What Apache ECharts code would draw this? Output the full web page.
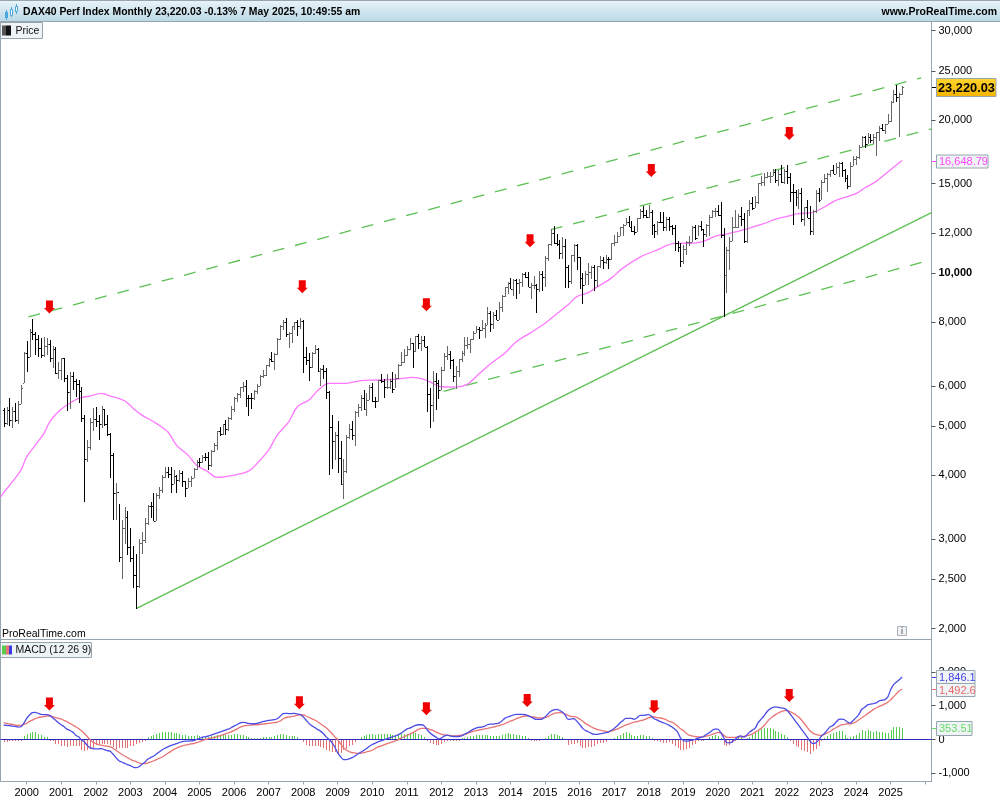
<!DOCTYPE html>
<html>
<head>
<meta charset="utf-8">
<title>DAX40 Perf Index Monthly</title>
<style>
html, body { margin: 0; padding: 0; background: #fff; }
#chart { width: 1000px; height: 800px; }
</style>
<script src="https://cdn.jsdelivr.net/npm/echarts@6/dist/echarts.min.js"></script>
</head>
<body>
<div id="chart"></div>
<script>
// monthly bars, May 1999 to May 2025, one row per year
const opens = [
	5390,5069,5378,5137,5345,5149,5525,6080,
	6960,6835,7644,7599,7414,7110,6898,7189,7259,6798,7077,6372,
	6434,6795,6208,5830,6264,6123,6058,5861,5188,4308,4559,5100,
	5160,5108,5039,5397,5041,4818,4383,3700,3713,2769,3153,3320,
	2893,2748,2547,2424,2942,2983,3221,3487,3485,3257,3656,3746,
	3965,4059,4018,3856,3985,3921,4052,3896,3785,3893,3960,4126,
	4256,4255,4350,4349,4185,4460,4586,4887,4829,5044,4929,5193,
	5408,5674,5796,5970,6009,5692,5683,5682,5859,6004,6268,6309,
	6597,6789,6715,6917,7409,7883,8007,7584,7638,7862,8019,7870,
	8067,6851,6748,6535,6949,7096,6418,6479,6422,5831,4988,4669,
	4810,4338,3843,4085,4769,4941,4809,5332,5465,5675,5415,5625,
	5957,5608,5598,6154,6136,5964,5966,6148,5925,6229,6601,6688,
	6914,7077,7272,7041,7514,7294,7376,7159,5785,5502,6141,6089,
	5898,6458,6856,6947,6761,6264,6416,6772,6970,7216,7260,7406,
	7612,7776,7742,7795,7914,8348,7959,8276,8103,8594,9033,9406,
	9552,9306,9692,9556,9603,9943,9833,9407,9470,9474,9326,9980,
	9806,10694,11401,11966,11454,11413,10945,11309,10259,9660,10850,11382,
	10743,9798,9495,9965,10039,10262,9680,10337,10592,10511,10665,10640,
	11481,11535,11834,12312,12438,12615,12325,12118,12055,12829,13229,13023,
	12918,13189,12435,12097,12612,12604,12306,12805,12364,12247,11447,11257,
	10559,11173,11516,11526,12344,11727,12399,12189,11939,12428,12867,13236,
	13249,12981,11890,9936,11107,11587,12311,12313,12945,12761,11556,13291,
	13719,13433,13786,15008,15136,15421,15531,15544,15835,15261,15689,15100,
	15885,15471,14461,14415,14098,14388,12784,13484,12835,12114,13254,14397,
	13924,15128,15365,15629,15922,15664,16148,16447,15947,15387,14810,16215,
	16752,16903,17678,18492,17932,18498,18235,18509,18907,19325,19078,19626,
	19909,21732,22551,22163,22497
];
const highs = [
	5440,5450,5690,5460,5560,5600,6020,7000,
	7340,7780,8136,7660,7550,7450,7500,7450,7400,7180,7160,6700,
	6800,6800,6300,6390,6390,6200,6150,5960,5250,4700,5180,5430,
	5460,5250,5467,5400,5250,4850,4430,3870,3520,3270,3468,3400,
	3157,2900,2800,3000,3100,3300,3500,3550,3700,3700,3800,4000,
	4160,4150,4150,4100,4000,4100,4090,3900,3960,3990,4140,4290,
	4330,4390,4430,4440,4480,4630,4900,4970,5060,5140,5220,5470,
	5700,5810,5980,6100,6160,5760,5800,5880,6040,6290,6440,6610,
	6820,6980,6960,7450,7890,8090,8150,7660,7870,8020,8090,8150,
	8100,7150,6950,6990,7230,7110,6500,6600,6500,5870,5250,4880,
	5110,4680,4300,4800,5050,5110,5360,5520,5760,5890,5810,6030,
	6090,5700,6170,6340,6190,6320,6200,6390,6320,6640,6980,7080,
	7180,7440,7300,7530,7600,7520,7520,7190,5930,6430,6350,6170,
	6530,6970,7190,7030,6790,6560,6780,7020,7480,7480,7430,7680,
	7870,7820,8070,7960,8560,8430,8400,8460,8770,9050,9410,9620,
	9790,9730,9730,9750,10000,10050,10030,9560,9890,9520,10100,10090,
	10800,11400,12220,12390,11920,11640,11800,11670,10370,10850,11430,11390,
	10750,9990,10100,10490,10330,10370,10340,10800,10740,10830,10770,11480,
	11890,12030,12310,12490,12840,12950,12680,12370,12830,13340,13530,13280,
	13600,13290,12470,12650,13200,13170,12880,12880,12460,12460,11570,11480,
	11370,11570,11820,12370,12440,12440,12660,12200,12490,12990,13310,13430,
	13640,13800,12250,11230,11780,12910,13310,13050,13460,13150,13310,13920,
	14130,14170,15030,15500,15730,15800,15810,16030,15990,15970,16290,16000,
	16300,15740,14960,14600,14610,14710,13500,13950,13560,13280,14560,14680,
	15270,15660,15710,15920,16330,16430,16530,16530,16050,15580,16530,17000,
	17000,17880,18570,18640,18890,18780,18780,18950,19500,19680,19680,20520,
	21800,22940,23480,22640,23380
];
const lows = [
	4990,5020,5010,4950,5090,5060,5530,6070,
	6380,6830,7370,6900,6830,6800,6850,6900,6700,6500,6320,6200,
	6160,6100,5350,5400,5900,5700,5550,5100,3539,4250,4480,4900,
	4980,4700,4960,5000,4790,3947,3270,3270,2703,2500,2930,2790,
	2700,2400,2188,2400,2800,2950,3200,3300,3250,3250,3600,3700,
	3950,3960,3690,3850,3690,3890,3800,3620,3770,3800,3950,4100,
	4160,4240,4270,4100,4160,4450,4490,4790,4800,4800,4900,5150,
	5330,5590,5690,5840,5460,5240,5400,5620,5780,5990,6220,6270,
	6530,6690,6440,6900,7380,7720,7500,7130,7300,7720,7520,7760,
	6350,6590,6130,6510,6930,6400,6000,6180,5660,4014,4120,4290,
	4050,3830,3589,4050,4720,4690,4570,5220,5350,5380,5240,5620,
	5590,5430,5570,6090,5670,5910,5920,5820,5930,6190,6560,6660,
	6860,7050,6510,6980,7100,7030,7150,5340,4965,5100,5370,5650,
	5900,6430,6740,6490,6110,5915,6260,6700,6860,7080,6950,7370,
	7620,7420,7700,7460,7900,7650,7780,8100,8100,8400,8970,9110,
	9290,9020,8900,9100,9400,9760,9400,8900,9300,8350,9200,9220,
	9380,10580,11300,11400,11300,10680,10650,9340,9330,9500,10530,10120,
	9310,8700,9490,9480,9740,9230,9370,10230,10190,10400,10170,10610,
	11300,11480,11830,11850,12420,12320,12040,11870,12040,12800,12840,12830,
	12860,11870,11730,11880,12540,12100,12100,12100,11860,11050,11010,10280,
	10400,10870,11300,11510,11620,11820,12120,11270,11800,11810,12860,12880,
	12950,11720,8200,9150,10160,11570,12250,12250,12370,11450,11450,12960,
	13310,13430,13670,14850,14820,15370,15050,15510,15020,14820,15050,14980,
	14970,13810,12440,13570,13380,12620,12390,12830,11860,11860,13100,13790,
	13900,15050,14460,15480,15630,15630,15460,15470,15140,14630,14780,16230,
	16350,16730,17670,17640,17930,18000,17950,17020,18210,18990,18810,19620,
	19860,21560,21700,18490,22400
];
const closes = [
	5069,5378,5137,5345,5149,5525,5950,6958,
	6835,7644,7599,7414,7110,6898,7189,7259,6798,7077,6372,6434,
	6795,6208,5830,6264,6123,6058,5861,5188,4308,4559,5100,5160,
	5108,5039,5397,5041,4818,4383,3700,3713,2769,3153,3320,2893,
	2748,2547,2424,2942,2983,3221,3487,3485,3257,3656,3746,3965,
	4059,4018,3856,3985,3921,4052,3896,3785,3893,3960,4126,4256,
	4255,4350,4349,4185,4460,4586,4887,4829,5044,4929,5193,5408,
	5674,5796,5970,6009,5692,5683,5682,5859,6004,6268,6309,6597,
	6789,6715,6917,7409,7883,8007,7584,7638,7862,8019,7870,8067,
	6851,6748,6535,6949,7096,6418,6479,6422,5831,4988,4669,4810,
	4338,3843,4085,4769,4941,4809,5332,5465,5675,5415,5625,5957,
	5608,5598,6154,6136,5964,5966,6148,5925,6229,6601,6688,6914,
	7077,7272,7041,7514,7294,7376,7159,5785,5502,6141,6089,5898,
	6458,6856,6947,6761,6264,6416,6772,6970,7216,7260,7406,7612,
	7776,7742,7795,7914,8348,7959,8276,8103,8594,9033,9406,9552,
	9306,9692,9556,9603,9943,9833,9407,9470,9474,9326,9980,9806,
	10694,11401,11966,11454,11413,10945,11309,10259,9660,10850,11382,10743,
	9798,9495,9965,10039,10262,9680,10337,10592,10511,10665,10640,11481,
	11535,11834,12312,12438,12615,12325,12118,12055,12829,13229,13023,12918,
	13189,12435,12097,12612,12604,12306,12805,12364,12247,11447,11257,10559,
	11173,11516,11526,12344,11727,12399,12189,11939,12428,12867,13236,13249,
	12981,11890,9936,11107,11587,12311,12313,12945,12761,11556,13291,13719,
	13433,13786,15008,15136,15421,15531,15544,15835,15261,15689,15100,15885,
	15471,14461,14415,14098,14388,12784,13484,12835,12114,13254,14397,13924,
	15128,15365,15629,15922,15664,16148,16447,15947,15387,14810,16215,16752,
	16903,17678,18492,17932,18498,18235,18509,18907,19325,19078,19626,19909,
	21732,22551,22163,22497,23220
];

// pink moving average, read at these month offsets (0 = Jan 2000)
const maMonths = [-9,-8,-5,-2,0,3,6,8,11,14,18,22,26,29,34,37,40,45,49,52,56,59,63,66,72,77,80,84,87,91,94,98,101,105,110,117,123,129,134,138,141,144,149,153,156,161,166,170,175,180,184,188,191,195,198,203,207,213,219,225,232,235,239,242,247,251,256,260,264,268,273,277,281,288,291,295,300,304];
const maValues = [3629,3700,3884,4096,4351,4588,4838,5100,5336,5501,5671,5730,5801,5730,5609,5419,5257,5063,4874,4588,4385,4190,4065,3963,4004,4078,4222,4485,4801,5100,5459,5627,5870,6070,6070,6154,6162,6190,6238,6181,6070,5977,5969,6043,6255,6626,6955,7331,7637,7970,8313,8660,8991,9156,9384,9775,10228,10752,11114,11436,11457,11541,11807,11914,12076,12263,12506,12775,12926,13086,13163,13490,13900,14329,14703,15151,15977,16648.79];

// MACD line, one row per year
const macdLine = [
	427,417,407,397,387,367,377,476,
	625,724,794,804,774,744,734,734,714,645,575,496,
	436,377,308,268,218,129,79,-10,-69,-169,-248,-268,
	-278,-278,-268,-298,-327,-347,-436,-536,-625,-665,-704,-744,
	-774,-813,-833,-804,-734,-675,-585,-536,-496,-436,-367,-308,
	-258,-218,-179,-149,-119,-89,-60,-50,-50,-40,-30,0,
	30,69,79,99,129,159,188,218,248,278,308,347,
	397,436,486,506,496,476,466,466,476,496,526,546,
	565,575,585,615,684,764,774,764,764,774,754,734,
	675,575,476,407,357,298,248,179,79,0,-90,-220,
	-397,-506,-595,-595,-575,-536,-486,-427,-377,-327,-268,-198,
	-149,-109,-69,-40,-10,20,50,79,109,139,188,248,
	308,337,377,417,436,436,407,298,198,129,79,20,
	40,99,129,109,89,89,89,109,149,198,248,298,
	337,357,367,387,436,456,456,466,486,546,625,665,
	694,724,744,744,744,734,704,665,625,595,595,605,
	665,754,833,873,893,863,813,724,595,605,615,546,
	446,337,268,228,188,149,149,169,179,198,218,268,
	327,397,486,556,625,625,625,595,645,714,714,724,
	734,684,605,575,526,496,466,427,377,308,228,50,
	-30,-50,-40,-20,0,40,60,89,149,198,268,308,
	308,208,60,-89,-99,-69,0,79,109,69,129,218,
	278,337,496,595,694,813,893,942,962,952,932,923,
	873,764,655,536,427,308,198,79,-50,-119,-99,-20,
	99,179,278,377,417,506,595,605,585,516,486,565,
	645,744,893,952,1022,1042,1061,1081,1141,1160,1180,1250,
	1468,1617,1696,1766,1846.1
];
const signalLine = [
	496,476,456,446,427,417,417,446,
	476,536,575,615,645,665,675,694,694,675,645,625,
	605,565,526,476,427,377,327,258,179,89,0,-79,
	-119,-149,-169,-188,-198,-218,-258,-317,-377,-436,-486,-536,
	-585,-625,-655,-694,-714,-714,-694,-665,-635,-595,-556,-516,
	-466,-407,-357,-298,-258,-218,-188,-169,-149,-129,-119,-89,
	-60,-30,0,20,40,60,79,109,139,169,198,228,
	268,308,357,387,407,417,427,436,436,446,456,466,
	476,486,496,516,546,605,645,665,675,694,714,734,
	724,694,655,615,575,526,466,407,347,268,179,79,
	0,-129,-238,-317,-357,-387,-397,-407,-407,-387,-367,-347,
	-317,-268,-218,-198,-159,-129,-99,-69,-40,-10,40,79,
	119,159,198,248,298,327,327,327,298,268,228,188,
	159,139,129,119,109,109,119,129,149,179,208,238,
	258,278,298,317,327,347,367,387,407,436,466,506,
	546,575,615,645,675,694,694,684,665,645,635,635,
	645,675,724,764,784,794,784,754,714,684,675,655,
	605,546,476,427,377,337,298,278,258,238,228,248,
	278,308,347,387,427,456,486,516,526,556,575,605,
	645,665,665,645,635,615,585,536,516,466,397,317,
	268,188,129,109,89,79,79,79,99,119,149,179,
	208,198,129,69,60,60,60,79,79,89,109,139,
	159,218,268,327,407,506,605,675,734,784,823,853,
	853,833,784,734,675,585,476,367,258,188,149,129,
	119,149,198,238,298,347,397,436,446,466,466,486,
	526,585,645,704,764,823,883,932,972,1012,1052,1101,
	1171,1260,1349,1438,1492.6
];
const macdHist = [
	-60,-60,-50,-50,-40,-40,-30,100,
	150,190,210,210,170,120,80,70,-30,-50,-120,-140,
	-180,-200,-230,-200,-200,-200,-200,-300,-330,-300,-280,-250,
	-160,-140,-130,-120,-140,-170,-220,-270,-260,-260,-260,-240,
	-200,-180,-120,-100,-60,-30,60,100,130,160,190,220,
	220,220,210,200,180,160,140,120,110,100,90,130,
	100,80,80,80,90,100,120,120,120,130,140,140,
	150,150,140,140,110,70,40,30,30,50,70,80,
	70,80,100,120,160,150,120,110,100,100,60,20,
	-80,-150,-190,-200,-190,-200,-220,-240,-300,-340,-380,-380,
	-420,-400,-320,-280,-200,-160,-60,-20,80,100,130,150,
	150,130,150,170,160,150,150,120,110,130,150,160,
	170,170,190,190,160,130,80,-30,-110,-130,-150,-160,
	-140,-80,-30,-30,-30,-30,-30,30,40,80,100,110,
	120,130,130,130,130,110,100,100,110,130,170,180,
	160,150,130,120,110,100,30,-30,-30,-50,-30,-20,
	40,110,150,150,130,100,60,-20,-150,-130,-120,-100,
	-200,-250,-250,-220,-210,-180,-140,-110,-90,-60,-20,20,
	50,100,140,180,210,180,130,100,110,120,120,100,
	90,30,-30,-50,-60,-90,-90,-80,-120,-180,-250,-300,
	-310,-280,-250,-150,-120,-40,-30,-30,20,80,110,140,
	100,30,-170,-200,-170,-100,-30,60,80,-20,50,80,
	140,200,270,310,340,340,340,300,250,210,150,130,
	80,-30,-140,-190,-220,-300,-350,-380,-430,-350,-280,-180,
	-50,30,100,160,200,230,250,240,130,30,60,110,
	120,180,280,260,280,260,230,240,230,220,200,200,
	280,370,370,370,353.51
];

// trend lines: [month offset, price]
const supportLine = [[38, 2188], [314.2, 13150]];
const upperChannel = [[0.6, 8200], [310.6, 24220]];
const middleChannel = [[182, 12170], [314.2, 19220]];
const lowerChannel = [[144.8, 5853], [314.2, 10622]];

// red arrows: [month offset, value]
const priceArrows = [[7.9, 8581], [95.7, 9396], [138.8, 8660], [174.8, 11578], [216.9, 15906], [264.8, 18814]];
const macdArrows = [[7.9, 1050], [94.7, 1086], [138.8, 911], [173.8, 1149], [217.9, 967], [264.8, 1298]];

// axis ticks
const yearTicks = [0,12,24,36,48,60,72,84,96,108,120,132,144,156,168,180,192,204,216,228,240,252,264,276,288,300];
const priceTicks = [2000,2500,3000,4000,5000,6000,8000,10000,12000,15000,20000,25000,30000];
const macdTicks = [-1000,0,1000,2000];

const firstMonth = -8;
const lastPrice = 23220.03;
const lastMa = 16648.79;
const lastMacd = 1846.1;
const lastSignal = 1492.6;
const lastHist = 353.51;

const FONT = '"Liberation Sans", Arial, sans-serif';
const BORDER = '#97a6ae';
const ARROW = 'path://M2,0 L9,0 L9,7.5 L11,7.5 L5.5,13 L0,7.5 L2,7.5 Z';
const xMin = -9.09, xMax = 314.2;

const monthAt = i => firstMonth + i;
const ohlcData = closes.map((c, i) => [monthAt(i), opens[i], highs[i], lows[i], c]);
const histData = macdHist.map((v, i) => [monthAt(i), v]);

function renderBar(params, api) {
	const m = api.value(0);
	const o = api.coord([m, api.value(1)]);
	const h = api.coord([m, api.value(2)]);
	const l = api.coord([m, api.value(3)]);
	const c = api.coord([m, api.value(4)]);
	const X = Math.round(o[0]);
	const oy = Math.round(o[1]) + 0.5;
	const cy = Math.round(c[1]) + 0.5;
	const stroke = { stroke: api.value(4) >= api.value(1) ? '#666666' : '#000000', lineWidth: 1 };
	return {
		type: 'group',
		children: [
			{ type: 'line', shape: { x1: X + 0.5, y1: Math.round(h[1]), x2: X + 0.5, y2: Math.round(l[1]) }, style: stroke },
			{ type: 'line', shape: { x1: X - 1, y1: oy, x2: X, y2: oy }, style: stroke },
			{ type: 'line', shape: { x1: X + 1, y1: cy, x2: X + 2, y2: cy }, style: stroke }
		]
	};
}

function renderHist(params, api) {
	const top = api.coord([api.value(0), api.value(1)]);
	const base = api.coord([api.value(0), 0]);
	const x = Math.round(top[0]) + 0.5;
	return {
		type: 'line',
		shape: { x1: x, y1: Math.round(base[1]), x2: x, y2: Math.round(top[1]) },
		style: { stroke: api.value(1) >= 0 ? '#55cc4f' : '#e27272', lineWidth: 1 }
	};
}

const fmt = v => Math.round(v).toLocaleString('en-US');

const chart = echarts.init(document.getElementById('chart'), null, { renderer: 'canvas' });

function trend(data, dashed) {
	return {
		type: 'line', xAxisIndex: 0, yAxisIndex: 0, data: data, symbol: 'none', silent: true, z: 3,
		lineStyle: { color: '#5cc052', width: 1.3, type: dashed ? [12, 11] : 'solid' }
	};
}
function arrows(data, axis) {
	return {
		type: 'scatter', xAxisIndex: axis, yAxisIndex: axis, data: data, symbol: ARROW, symbolSize: [11, 13],
		itemStyle: { color: '#f00000', opacity: 1 }, silent: true, z: 6
	};
}
function macdCurve(data, color, z) {
	return {
		type: 'line', xAxisIndex: 1, yAxisIndex: 1, symbol: 'none', silent: true, z: z, smooth: 0.25,
		data: data.map((v, i) => [monthAt(i), v]),
		lineStyle: { color: color, width: 1.3 }
	};
}

chart.setOption({
	animation: false,
	backgroundColor: '#ffffff',
	textStyle: { fontFamily: FONT },
	grid: [
		{ left: 0.5, top: 21.5, width: 931, height: 618, show: true, borderColor: BORDER, borderWidth: 1, backgroundColor: '#fff' },
		{ left: 0.5, top: 639.5, width: 931, height: 142, show: true, borderColor: BORDER, borderWidth: 1, backgroundColor: '#fff' }
	],
	xAxis: [
		{
			type: 'value', gridIndex: 0, min: xMin, max: xMax, splitLine: { show: false },
			axisLine: { show: false }, axisTick: { show: false }, axisLabel: { show: false }
		},
		{
			type: 'value', gridIndex: 1, min: xMin, max: xMax, splitLine: { show: false },
			axisLine: { show: true, onZero: false, lineStyle: { color: BORDER } },
			axisTick: { show: true, length: 3, lineStyle: { color: BORDER }, customValues: yearTicks.concat(312) },
			axisLabel: {
				show: true, color: '#000', fontSize: 11, fontFamily: FONT, margin: 6, hideOverlap: false,
				customValues: yearTicks, formatter: v => String(2000 + Math.round(v / 12))
			}
		}
	],
	yAxis: [
		{
			type: 'log', gridIndex: 0, position: 'right', min: 1902.6, max: 31250, splitLine: { show: false },
			axisLine: { show: true, onZero: false, lineStyle: { color: BORDER } },
			axisTick: { show: true, length: 4, lineStyle: { color: '#555' }, customValues: priceTicks },
			axisLabel: {
				show: true, color: '#000', fontSize: 11, fontFamily: FONT, margin: 7, hideOverlap: false,
				customValues: priceTicks,
				formatter: v => Math.round(v) === 10000 ? '{b|10,000}' : fmt(v),
				rich: { b: { fontWeight: 'bold', fontSize: 11, fontFamily: FONT, color: '#000' } }
			}
		},
		{
			type: 'value', gridIndex: 1, position: 'right', min: -1241, max: 2955, splitLine: { show: false },
			axisLine: { show: true, onZero: false, lineStyle: { color: BORDER } },
			axisTick: { show: true, length: 4, lineStyle: { color: '#555' }, customValues: macdTicks },
			axisLabel: {
				show: true, color: '#000', fontSize: 11, fontFamily: FONT, margin: 7, hideOverlap: false,
				customValues: macdTicks, formatter: v => fmt(v)
			}
		}
	],
	series: [
		trend(supportLine, false),
		trend(upperChannel, true),
		trend(middleChannel, true),
		trend(lowerChannel, true),
		{
			type: 'line', xAxisIndex: 0, yAxisIndex: 0, symbol: 'none', silent: true, z: 4, smooth: 0.35,
			data: maValues.map((v, i) => [maMonths[i], v]),
			lineStyle: { color: '#ff78ff', width: 1.3 }
		},
		{
			type: 'custom', xAxisIndex: 0, yAxisIndex: 0, data: ohlcData, renderItem: renderBar,
			encode: { x: 0, y: [1, 2, 3, 4] }, silent: true, z: 5, clip: true
		},
		arrows(priceArrows, 0),
		{
			type: 'custom', xAxisIndex: 1, yAxisIndex: 1, data: histData, renderItem: renderHist,
			encode: { x: 0, y: 1 }, silent: true, z: 2, clip: true
		},
		{
			type: 'line', xAxisIndex: 1, yAxisIndex: 1, symbol: 'none', silent: true, z: 3,
			data: [[xMin, 0], [xMax, 0]],
			lineStyle: { color: '#2a2ac0', width: 1 }
		},
		macdCurve(signalLine, '#e87474', 4),
		macdCurve(macdLine, '#4c4ce4', 5),
		arrows(macdArrows, 1)
	]
});

function tag(x, y, w, h, items, text) {
	return [
		{ type: 'rect', z: 50, shape: { x: x, y: y, width: w, height: h }, style: { fill: '#eef3f6', stroke: BORDER, lineWidth: 1 } }
	].concat(items.map(r => ({
		type: 'rect', z: 51, shape: { x: r[0], y: y + 3, width: r[1], height: h - 6 }, style: { fill: r[2] }
	}))).concat([
		{ type: 'text', z: 51, style: { x: x + 15, y: y + h / 2 + 0.5, text: text, fill: '#111', font: '10.5px ' + FONT, verticalAlign: 'middle' } }
	]);
}
function valueBox(axis, value, text, color, x2, opts) {
	const y = Math.round(chart.convertToPixel({ yAxisIndex: axis }, value));
	const o = opts || {};
	const h = o.h || 13;
	const top = (o.y !== undefined ? o.y : y - h / 2) + 0.5;
	return [
		{ type: 'line', z: 50, shape: { x1: 932, y1: y + 0.5, x2: 936, y2: y + 0.5 }, style: { stroke: o.tick || color, lineWidth: 1 } },
		{
			type: 'rect', z: 50, shape: { x: 936.5, y: top, width: x2 - 936.5, height: h },
			style: { fill: o.fill || '#f1f4f6', stroke: BORDER, lineWidth: 1 }
		},
		{
			type: 'text', z: 51,
			style: { x: o.tx || 939, y: top + h / 2 + 0.5, text: text, fill: o.text || color, font: (o.font || '11px ') + FONT, verticalAlign: 'middle' }
		}
	];
}

const titleFill = new echarts.graphic.LinearGradient(0, 0, 0, 1, [
	{ offset: 0, color: '#e9f4f9' }, { offset: 1, color: '#bcd9e6' }
]);
const goldFill = new echarts.graphic.LinearGradient(0, 0, 0, 1, [
	{ offset: 0, color: '#ffd52e' }, { offset: 1, color: '#f5b400' }
]);

const graphicItems = [
	{ type: 'rect', z: 50, shape: { x: 0, y: 0, width: 1000, height: 21 }, style: { fill: titleFill } },
	{ type: 'line', z: 50, shape: { x1: 0, y1: 21.5, x2: 1000, y2: 21.5 }, style: { stroke: BORDER, lineWidth: 1 } },
	{ type: 'line', z: 50, shape: { x1: 0, y1: 0.5, x2: 1000, y2: 0.5 }, style: { stroke: BORDER, lineWidth: 1 } },
	// small candle icon
	{ type: 'line', z: 51, shape: { x1: 6.5, y1: 10, x2: 6.5, y2: 20 }, style: { stroke: '#4aa8e0', lineWidth: 1 } },
	{ type: 'rect', z: 51, shape: { x: 5, y: 12, width: 3, height: 6 }, style: { fill: '#4aa8e0' } },
	{ type: 'line', z: 51, shape: { x1: 11.5, y1: 7, x2: 11.5, y2: 17 }, style: { stroke: '#4aa8e0', lineWidth: 1 } },
	{ type: 'rect', z: 51, shape: { x: 10.5, y: 9.5, width: 2, height: 6 }, style: { fill: '#ffffff', stroke: '#4aa8e0', lineWidth: 1 } },
	{ type: 'line', z: 51, shape: { x1: 16.5, y1: 4, x2: 16.5, y2: 14 }, style: { stroke: '#4aa8e0', lineWidth: 1 } },
	{ type: 'rect', z: 51, shape: { x: 15.5, y: 6.5, width: 2, height: 5 }, style: { fill: '#ffffff', stroke: '#4aa8e0', lineWidth: 1 } },
	{ type: 'text', z: 51, style: { x: 23, y: 12.5, text: 'DAX40 Perf Index Monthly 23,220.03 -0.13% 7 May 2025, 10:49:55 am', fill: '#000', font: 'bold 10.4px ' + FONT, verticalAlign: 'middle' } },
	{ type: 'text', z: 51, style: { x: 997, y: 12.5, text: 'www.ProRealTime.com', fill: '#000', font: 'bold 10.5px ' + FONT, verticalAlign: 'middle', align: 'right' } },
	{ type: 'text', z: 51, style: { x: 2, y: 634, text: 'ProRealTime.com', fill: '#000', font: '10.5px ' + FONT, verticalAlign: 'middle' } },
	{ type: 'rect', z: 51, shape: { x: 897.5, y: 626.5, width: 9, height: 9 }, style: { fill: '#f0f2f4', stroke: '#a8b0b8', lineWidth: 1 } },
	{ type: 'text', z: 52, style: { x: 902, y: 631.5, text: 'i', fill: '#808890', font: 'bold 9px ' + FONT, verticalAlign: 'middle', align: 'center' } }
].concat(
	tag(0.5, 22.5, 42, 16, [[2, 4, '#555555'], [6, 5, '#111111']], 'Price'),
	tag(0.5, 642.5, 91, 15, [[2, 4, '#5acb50'], [6, 3, '#e87474'], [9, 3, '#3a3ae0']], 'MACD (12 26 9)'),
	valueBox(0, lastMa, '16,648.79', '#ff44ff', 988),
	valueBox(0, lastPrice, '23,220.03', '#000000', 996, { fill: goldFill, font: 'bold 12.8px ', h: 18, tick: '#000', tx: 938 }),
	valueBox(1, lastMacd, '1,846.1', '#4444e8', 975, { y: 670 }),
	valueBox(1, lastSignal, '1,492.6', '#e86a6a', 975, { y: 683 }),
	valueBox(1, lastHist, '353.51', '#66dd66', 972, { h: 14 })
);

chart.setOption({ graphic: { elements: graphicItems } });
</script>
</body>
</html>
